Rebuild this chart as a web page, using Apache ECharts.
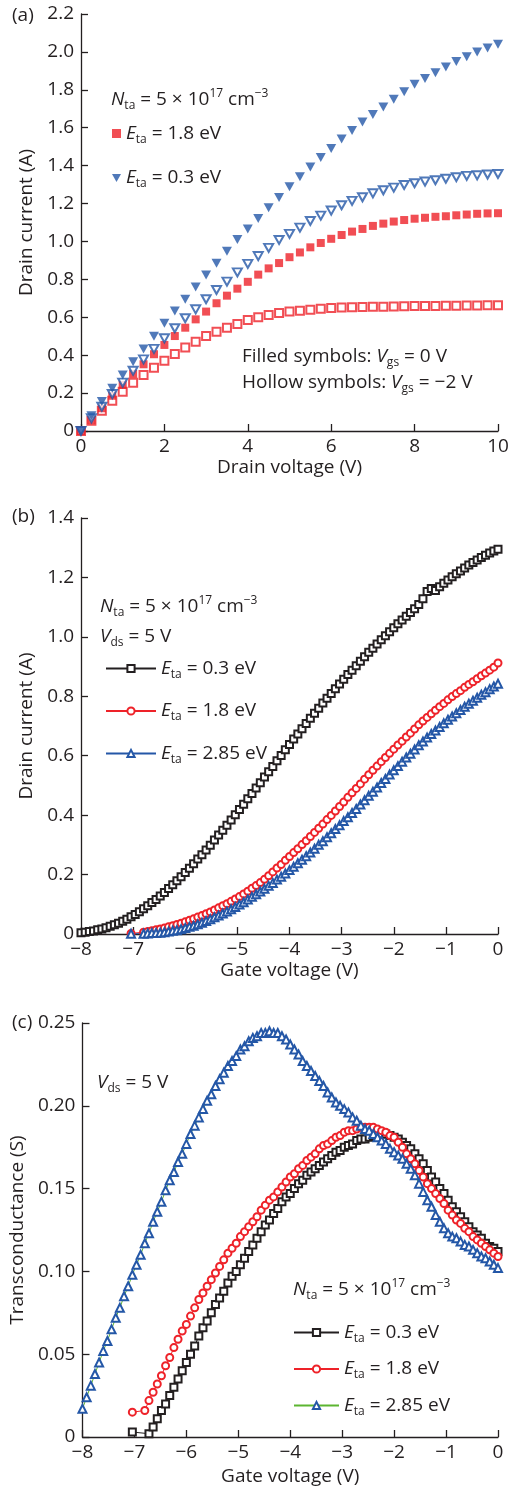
<!DOCTYPE html>
<html>
<head>
<meta charset="utf-8">
<script src="https://cdn.jsdelivr.net/npm/echarts/dist/echarts.min.js"></script>
<style>
  html, body { margin: 0; padding: 0; background: #fff; }
  #chart { width: 512px; height: 1488px; }
</style>
</head>
<body>
<div id="chart"></div>
<script>
// panel (a): drain voltage sweep
const vdA = [0, 0.25, 0.5, 0.75, 1, 1.25, 1.5, 1.75, 2, 2.25, 2.5, 2.75, 3, 3.25, 3.5, 3.75, 4, 4.25, 4.5, 4.75,
  5, 5.25, 5.5, 5.75, 6, 6.25, 6.5, 6.75, 7, 7.25, 7.5, 7.75, 8, 8.25, 8.5, 8.75, 9, 9.25, 9.5, 9.75, 10];
const idA03Filled = [0, 0.081, 0.155, 0.225, 0.296, 0.366, 0.433, 0.500, 0.568, 0.633, 0.695, 0.760, 0.823, 0.885, 0.948, 1.010,
  1.066, 1.121, 1.178, 1.232, 1.288, 1.341, 1.393, 1.443, 1.490, 1.540, 1.585, 1.630, 1.670, 1.710, 1.750, 1.790,
  1.830, 1.860, 1.890, 1.920, 1.950, 1.975, 2.000, 2.020, 2.040];
const idA03Hollow = [0, 0.067, 0.128, 0.195, 0.255, 0.318, 0.378, 0.433, 0.489, 0.542, 0.595, 0.642, 0.695, 0.744, 0.788, 0.837,
  0.882, 0.923, 0.966, 1.008, 1.040, 1.073, 1.108, 1.136, 1.163, 1.191, 1.214, 1.233, 1.254, 1.270, 1.284, 1.298,
  1.307, 1.316, 1.323, 1.331, 1.339, 1.346, 1.349, 1.353, 1.356];
const idA18Filled = [0, 0.058, 0.120, 0.186, 0.243, 0.301, 0.352, 0.405, 0.454, 0.501, 0.545, 0.589, 0.630, 0.674, 0.714, 0.751,
  0.787, 0.825, 0.858, 0.886, 0.917, 0.942, 0.969, 0.992, 1.014, 1.034, 1.052, 1.066, 1.082, 1.094, 1.105, 1.113,
  1.120, 1.125, 1.130, 1.133, 1.138, 1.142, 1.146, 1.148, 1.149];
const idA18Hollow = [0, 0.054, 0.107, 0.160, 0.207, 0.255, 0.296, 0.334, 0.371, 0.406, 0.440, 0.471, 0.501, 0.524, 0.545, 0.565,
  0.586, 0.600, 0.612, 0.622, 0.630, 0.635, 0.640, 0.645, 0.649, 0.651, 0.653, 0.654, 0.655, 0.656, 0.657, 0.658,
  0.659, 0.660, 0.660, 0.661, 0.661, 0.662, 0.662, 0.663, 0.663];

// panels (b) and (c): gate voltage sweep
const vg = [-8.00, -7.92, -7.84, -7.76, -7.68, -7.60, -7.52, -7.44, -7.36, -7.28,
  -7.20, -7.12, -7.04, -6.96, -6.88, -6.80, -6.72, -6.64, -6.56, -6.48,
  -6.40, -6.32, -6.24, -6.16, -6.08, -6.00, -5.92, -5.84, -5.76, -5.68,
  -5.60, -5.52, -5.44, -5.36, -5.28, -5.20, -5.12, -5.04, -4.96, -4.88,
  -4.80, -4.72, -4.64, -4.56, -4.48, -4.40, -4.32, -4.24, -4.16, -4.08,
  -4.00, -3.92, -3.84, -3.76, -3.68, -3.60, -3.52, -3.44, -3.36, -3.28,
  -3.20, -3.12, -3.04, -2.96, -2.88, -2.80, -2.72, -2.64, -2.56, -2.48,
  -2.40, -2.32, -2.24, -2.16, -2.08, -2.00, -1.92, -1.84, -1.76, -1.68,
  -1.60, -1.52, -1.44, -1.36, -1.28, -1.20, -1.12, -1.04, -0.96, -0.88,
  -0.80, -0.72, -0.64, -0.56, -0.48, -0.40, -0.32, -0.24, -0.16, -0.08,
  0.00];

const idB03 = [0.004, 0.006, 0.008, 0.010, 0.014, 0.017, 0.021, 0.026, 0.031, 0.036,
  0.043, 0.050, 0.058, 0.066, 0.075, 0.085, 0.095, 0.106, 0.116, 0.128,
  0.140, 0.153, 0.166, 0.179, 0.193, 0.207, 0.221, 0.236, 0.252, 0.267,
  0.283, 0.299, 0.316, 0.333, 0.349, 0.366, 0.384, 0.401, 0.419, 0.437,
  0.455, 0.473, 0.491, 0.509, 0.528, 0.546, 0.564, 0.583, 0.601, 0.620,
  0.638, 0.656, 0.673, 0.691, 0.708, 0.726, 0.743, 0.760, 0.777, 0.793,
  0.809, 0.825, 0.841, 0.857, 0.873, 0.888, 0.903, 0.918, 0.933, 0.948,
  0.962, 0.976, 0.990, 1.004, 1.017, 1.031, 1.044, 1.057, 1.069, 1.082,
  1.095, 1.109, 1.128, 1.153, 1.163, 1.156, 1.169, 1.180, 1.191, 1.202,
  1.212, 1.222, 1.232, 1.242, 1.250, 1.259, 1.267, 1.275, 1.282, 1.289,
  1.295];
const idB18 = [null, null, null, null, null, null, null, null, null, null,
  null, null, 0.002, null, null, 0.006, 0.008, 0.011, 0.014, 0.017,
  0.020, 0.024, 0.028, 0.032, 0.036, 0.041, 0.046, 0.051, 0.057, 0.062,
  0.068, 0.074, 0.081, 0.088, 0.095, 0.102, 0.110, 0.118, 0.126, 0.135,
  0.144, 0.154, 0.163, 0.173, 0.184, 0.196, 0.209, 0.222, 0.234, 0.248,
  0.261, 0.274, 0.287, 0.301, 0.314, 0.328, 0.342, 0.356, 0.370, 0.385,
  0.399, 0.414, 0.429, 0.444, 0.460, 0.475, 0.490, 0.505, 0.521, 0.536,
  0.551, 0.565, 0.580, 0.594, 0.608, 0.622, 0.636, 0.649, 0.663, 0.676,
  0.690, 0.704, 0.717, 0.729, 0.741, 0.753, 0.765, 0.776, 0.788, 0.799,
  0.809, 0.819, 0.830, 0.840, 0.849, 0.859, 0.869, 0.878, 0.888, 0.898,
  0.912];
const idB285 = [null, null, null, null, null, null, null, null, null, null,
  null, null, 0.001, null, null, 0.001, 0.002, 0.003, 0.003, 0.004,
  0.006, 0.008, 0.011, 0.013, 0.016, 0.020, 0.024, 0.028, 0.033, 0.038,
  0.044, 0.050, 0.056, 0.062, 0.069, 0.076, 0.083, 0.091, 0.099, 0.107,
  0.116, 0.125, 0.134, 0.143, 0.152, 0.162, 0.172, 0.183, 0.193, 0.204,
  0.215, 0.226, 0.238, 0.250, 0.262, 0.274, 0.287, 0.300, 0.312, 0.326,
  0.339, 0.353, 0.366, 0.380, 0.393, 0.407, 0.421, 0.436, 0.450, 0.465,
  0.479, 0.493, 0.508, 0.522, 0.537, 0.551, 0.565, 0.580, 0.594, 0.607,
  0.621, 0.635, 0.648, 0.661, 0.673, 0.685, 0.697, 0.709, 0.721, 0.732,
  0.743, 0.754, 0.765, 0.775, 0.785, 0.795, 0.805, 0.814, 0.824, 0.833,
  0.842];

const gmC03 = [null, null, null, null, null, null, null, null, null, null,
  null, null, 0.003, null, null, null, 0.002, 0.006, 0.011, 0.016,
  0.020, 0.025, 0.030, 0.035, 0.040, 0.045, 0.050, 0.055, 0.061, 0.066,
  0.070, 0.075, 0.080, 0.084, 0.088, 0.093, 0.097, 0.100, 0.104, 0.108,
  0.112, 0.116, 0.120, 0.124, 0.128, 0.131, 0.135, 0.138, 0.142, 0.145,
  0.147, 0.150, 0.153, 0.155, 0.158, 0.160, 0.162, 0.164, 0.166, 0.168,
  0.170, 0.172, 0.173, 0.175, 0.176, 0.177, 0.179, 0.180, 0.180, 0.181,
  0.182, 0.183, 0.183, 0.183, 0.182, 0.181, 0.180, 0.178, 0.176, 0.174,
  0.171, 0.168, 0.165, 0.161, 0.157, 0.154, 0.150, 0.147, 0.143, 0.139,
  0.136, 0.133, 0.130, 0.127, 0.124, 0.122, 0.120, 0.117, 0.115, 0.114,
  0.112];
const gmC18 = [null, null, null, null, null, null, null, null, null, null,
  null, null, 0.015, null, null, 0.016, 0.022, 0.027, 0.032, 0.037,
  0.043, 0.048, 0.054, 0.059, 0.064, 0.068, 0.073, 0.078, 0.083, 0.087,
  0.091, 0.095, 0.099, 0.103, 0.107, 0.111, 0.114, 0.117, 0.121, 0.124,
  0.127, 0.130, 0.133, 0.137, 0.140, 0.143, 0.145, 0.148, 0.151, 0.154,
  0.157, 0.159, 0.162, 0.164, 0.167, 0.169, 0.171, 0.174, 0.176, 0.177,
  0.179, 0.181, 0.182, 0.184, 0.185, 0.185, 0.186, 0.187, 0.187, 0.187,
  0.187, 0.186, 0.185, 0.184, 0.182, 0.181, 0.178, 0.175, 0.171, 0.168,
  0.165, 0.161, 0.157, 0.153, 0.150, 0.147, 0.144, 0.141, 0.137, 0.134,
  0.131, 0.129, 0.126, 0.124, 0.121, 0.119, 0.117, 0.115, 0.113, 0.111,
  0.109];
const gmC285 = [0.017, 0.024, 0.031, 0.038, 0.045, 0.052, 0.058, 0.065, 0.072, 0.078,
  0.085, 0.091, 0.098, 0.104, 0.110, 0.117, 0.123, 0.130, 0.136, 0.142,
  0.149, 0.155, 0.160, 0.166, 0.171, 0.177, 0.183, 0.188, 0.193, 0.198,
  0.203, 0.207, 0.212, 0.216, 0.220, 0.224, 0.227, 0.230, 0.234, 0.236,
  0.239, 0.241, 0.242, 0.244, 0.244, 0.245, 0.244, 0.244, 0.242, 0.240,
  0.237, 0.234, 0.231, 0.227, 0.224, 0.221, 0.218, 0.215, 0.212, 0.208,
  0.205, 0.202, 0.200, 0.198, 0.196, 0.193, 0.191, 0.188, 0.186, 0.185,
  0.183, 0.181, 0.179, 0.177, 0.174, 0.172, 0.170, 0.168, 0.165, 0.162,
  0.158, 0.153, 0.148, 0.143, 0.139, 0.134, 0.130, 0.126, 0.123, 0.121,
  0.120, 0.118, 0.116, 0.115, 0.113, 0.111, 0.109, 0.108, 0.106, 0.104,
  0.102];

const FONT = 'Open Sans';
const INK = '#231f20';
const RED = '#ee2229';
const BLUE = '#2457a7';
const GREEN = '#5cb531';
const FS = 19;

const pairs = (xs, ys) => xs.map((x, i) => [x, ys[i]]);

// rich text styles (graphic uses fill, legend uses color)
const richG = {
  it: { fontFamily: FONT, fontSize: FS, fontStyle: 'italic', fill: INK, lineHeight: 24 },
  sub: { fontFamily: FONT, fontSize: 12, fill: INK, verticalAlign: 'bottom', lineHeight: 14 },
  sup: { fontFamily: FONT, fontSize: 12, fill: INK, verticalAlign: 'top', lineHeight: 14 },
  n: { fontFamily: FONT, fontSize: FS, fill: INK, lineHeight: 24 }
};
const richL = {
  it: { fontFamily: FONT, fontSize: FS, fontStyle: 'italic', color: INK, lineHeight: 24 },
  sub: { fontFamily: FONT, fontSize: 12, color: INK, verticalAlign: 'bottom', lineHeight: 14 },
  n: { fontFamily: FONT, fontSize: FS, color: INK, lineHeight: 24 }
};

const legendText = {
  a18f: '{it|E}{sub|ta}{n| = 1.8 eV}',
  a03f: '{it|E}{sub|ta}{n| = 0.3 eV}',
  b03: '{it|E}{sub|ta}{n| = 0.3 eV}',
  b18: '{it|E}{sub|ta}{n| = 1.8 eV}',
  b285: '{it|E}{sub|ta}{n| = 2.85 eV}',
  c03: '{it|E}{sub|ta}{n| = 0.3 eV}',
  c18: '{it|E}{sub|ta}{n| = 1.8 eV}',
  c285: '{it|E}{sub|ta}{n| = 2.85 eV}'
};
const tN = '{it|N}{sub|ta}{n| = 5 × 10}{sup|17}{n| cm}{sup|−3}';
const tVds = '{it|V}{sub|ds}{n| = 5 V}';

const minus = v => (v < 0 ? '−' + Math.abs(v) : String(v));

function axis(gi, min, max, interval, fmt, name, nameGap, vertical) {
  return {
    gridIndex: gi, type: 'value', min, max, interval,
    name, nameLocation: 'middle', nameGap,
    nameTextStyle: { fontFamily: FONT, fontSize: FS, color: INK },
    axisLine: { onZero: false, lineStyle: { color: INK, width: 1.3 } },
    axisTick: { inside: true, length: 7, lineStyle: { color: INK, width: 1.3 } },
    axisLabel: { formatter: fmt, fontFamily: FONT, fontSize: FS, color: INK, margin: vertical ? 7 : 6 },
    splitLine: { show: false }
  };
}

function legend(left, top, gap, w, data) {
  return {
    orient: 'vertical', left, top, itemGap: gap, itemWidth: w, itemHeight: 9,
    selectedMode: false, data,
    formatter: n => legendText[n],
    textStyle: { fontFamily: FONT, fontSize: FS, color: INK, rich: richL }
  };
}

function lineSeries(name, gi, ys, symbol, color, lineColor, size) {
  return {
    type: 'line', name, xAxisIndex: gi, yAxisIndex: gi, data: pairs(vg, ys),
    symbol, symbolSize: size, showAllSymbol: true, connectNulls: true,
    lineStyle: { color: lineColor, width: 1 },
    itemStyle: { color, borderWidth: 1.1 },
    emphasis: { disabled: true }
  };
}

function label(x, y, text) {
  return { type: 'text', x, y, style: { text, rich: richG, fontFamily: FONT, fontSize: FS, fill: INK, verticalAlign: 'middle' } };
}

const chart = echarts.init(document.getElementById('chart'), null, { renderer: 'canvas' });
chart.setOption({
  animation: false,
  backgroundColor: '#fff',
  grid: [
    { left: 81, top: 14, width: 417, height: 417 },
    { left: 81, top: 518, width: 417, height: 416 },
    { left: 81, top: 1023, width: 417, height: 414 }
  ],
  xAxis: [
    axis(0, 0, 10, 2, v => String(v), 'Drain voltage (V)', 27, false),
    axis(1, -8, 0, 1, minus, 'Gate voltage (V)', 27, false),
    axis(2, -8, 0, 1, minus, 'Gate voltage (V)', 30, false)
  ],
  yAxis: [
    axis(0, 0, 2.2, 0.2, v => (v === 0 ? '0' : v.toFixed(1)), 'Drain current (A)', 38, true),
    axis(1, 0, 1.4, 0.2, v => (v === 0 ? '0' : v.toFixed(1)), 'Drain current (A)', 38, true),
    axis(2, 0, 0.25, 0.05, v => (v === 0 ? '0' : v.toFixed(2)), 'Transconductance (S)', 50, true)
  ],
  legend: [
    legend(107, 119, 23, 9, [{ name: 'a18f', icon: 'rect' }, { name: 'a03f', icon: 'path://M0,0L10,0L5,9Z' }]),
    legend(100, 654, 21, 50, ['b03', 'b18', 'b285']),
    legend(288, 1318, 15, 45, ['c03', 'c18', 'c285'])
  ],
  graphic: [
    label(12, 16, '{n|(a)}'),
    label(111, 100, tN),
    label(242, 357, '{n|Filled symbols: }{it|V}{sub|gs}{n| = 0 V}'),
    label(242, 383, '{n|Hollow symbols: }{it|V}{sub|gs}{n| = −2 V}'),
    label(12, 517, '{n|(b)}'),
    label(100, 607, tN),
    label(100, 637, tVds),
    label(12, 1023, '{n|(c)}'),
    label(97, 1083, tVds),
    label(293, 1290, tN)
  ],
  series: [
    { type: 'scatter', name: 'a18h', xAxisIndex: 0, yAxisIndex: 0, data: pairs(vdA, idA18Hollow),
      symbol: 'emptyRect', symbolSize: 8, itemStyle: { color: RED, borderWidth: 1.5 } },
    { type: 'scatter', name: 'a18f', xAxisIndex: 0, yAxisIndex: 0, data: pairs(vdA, idA18Filled),
      symbol: 'rect', symbolSize: 8, itemStyle: { color: RED } },
    { type: 'scatter', name: 'a03h', xAxisIndex: 0, yAxisIndex: 0, data: pairs(vdA, idA03Hollow),
      symbol: 'emptyTriangle', symbolRotate: 180, symbolSize: [9, 8], itemStyle: { color: BLUE, borderWidth: 1.5 } },
    { type: 'scatter', name: 'a03f', xAxisIndex: 0, yAxisIndex: 0, data: pairs(vdA, idA03Filled),
      symbol: 'triangle', symbolRotate: 180, symbolSize: [10, 9], itemStyle: { color: BLUE } },

    lineSeries('b03', 1, idB03, 'emptyRect', INK, INK, 7),
    lineSeries('b18', 1, idB18, 'emptyCircle', RED, RED, 7),
    lineSeries('b285', 1, idB285, 'emptyTriangle', BLUE, BLUE, 8),

    lineSeries('c03', 2, gmC03, 'emptyRect', INK, INK, 7),
    lineSeries('c18', 2, gmC18, 'emptyCircle', RED, RED, 7),
    lineSeries('c285', 2, gmC285, 'emptyTriangle', BLUE, GREEN, 8)
  ]
});
</script>
</body>
</html>
